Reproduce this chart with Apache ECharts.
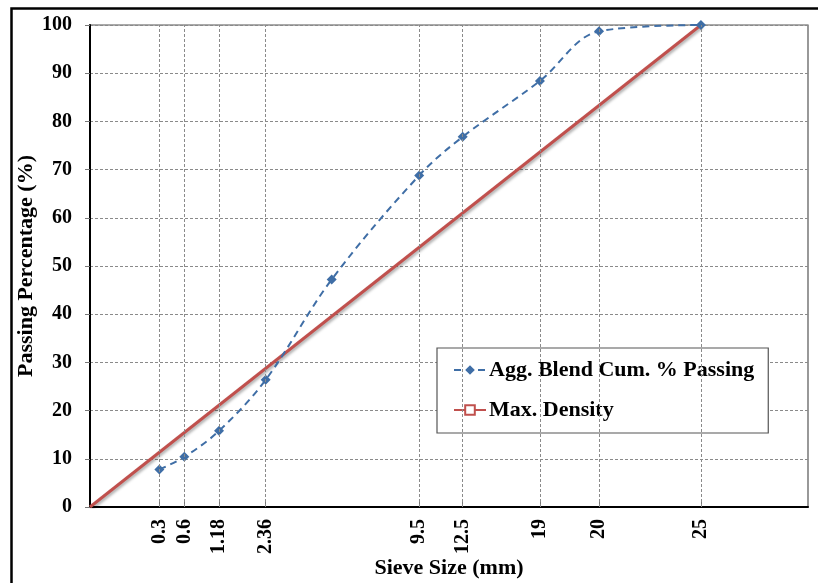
<!DOCTYPE html>
<html>
<head>
<meta charset="utf-8">
<script src="https://cdn.jsdelivr.net/npm/echarts@6/dist/echarts.min.js"></script>
<style>
html,body{margin:0;padding:0;background:#fff;}
#chart{width:818px;height:583px;}
</style>
</head>
<body>
<div id="chart"></div>
<script>
// Sieve sizes (mm) of the blend points
var sieveSizes = [0.3, 0.6, 1.18, 2.36, 4.75, 9.5, 12.5, 19, 20, 25];
// Abscissa at which each sieve is plotted (axis units)
var plotPos = [2.84, 3.86, 5.28, 7.19, 9.89, 13.47, 15.25, 18.41, 20.83, 25.0];
// Aggregate blend cumulative % passing
var blendPassing = [7.8, 10.4, 15.8, 26.4, 47.2, 68.8, 76.8, 88.4, 98.7, 100];
// Sieves that carry a tick label / vertical grid line
var labelledSieves = ['0.3', '0.6', '1.18', '2.36', '9.5', '12.5', '19', '20', '25'];
var labelledPos = [2.84, 3.86, 5.28, 7.19, 13.47, 15.25, 18.41, 20.83, 25.0];
// Maximum density line end points [position, % passing]
var maxDensityPos = [0, 25.0];
var maxDensityVal = [0, 100];

var blendData = plotPos.map(function (p, i) { return [p, blendPassing[i]]; });
var mdData = maxDensityPos.map(function (p, i) { return [p, maxDensityVal[i]]; });
var labelMap = {};
labelledPos.forEach(function (p, i) { labelMap[p.toFixed(2)] = labelledSieves[i]; });

var FONT = '"Liberation Serif", "Times New Roman", serif';
var chart = echarts.init(document.getElementById('chart'));
chart.setOption({
  animation: false,
  backgroundColor: '#fff',
  graphic: [{
    type: 'rect', left: 9, top: 6, silent: true, z: 100,
    shape: { width: 830, height: 600 },
    style: { fill: 'none', stroke: '#000', lineWidth: 2.5 }
  }],
  grid: { left: 90, top: 25, right: 10, bottom: 76, show: true, borderColor: '#555', borderWidth: 1.2, containLabel: false, outerBoundsMode: 'none' },
  legend: {
    orient: 'vertical',
    left: 437, top: 348,
    padding: [11, 14, 12, 16],
    itemGap: 18,
    itemWidth: 32, itemHeight: 12,
    backgroundColor: '#fff',
    borderColor: '#555', borderWidth: 1.2,
    textStyle: { fontFamily: FONT, fontWeight: 'bold', fontSize: 22, color: '#000', padding: [0, 0, 0, -2] },
    data: ['Agg. Blend Cum. % Passing', 'Max. Density']
  },
  xAxis: {
    type: 'value', min: 0, max: 29.38,
    name: 'Sieve Size (mm)', nameLocation: 'middle', nameGap: 50, nameMoveOverlap: false,
    nameTextStyle: { fontFamily: FONT, fontWeight: 'bold', fontSize: 22, color: '#000' },
    axisLine: { show: true, onZero: false, lineStyle: { color: '#000', width: 2 } },
    axisTick: { show: true, inside: true, length: 6, customValues: labelledPos, lineStyle: { color: '#777' } },
    axisLabel: {
      show: true, rotate: 90, margin: 12,
      customValues: labelledPos,
      fontFamily: FONT, fontWeight: 'bold', fontSize: 20, color: '#000',
      formatter: function (v) { return labelMap[Number(v).toFixed(2)] || ''; }
    },
    splitLine: { show: false }
  },
  yAxis: {
    type: 'value', min: 0, max: 100, interval: 10,
    name: 'Passing Percentage (%)', nameLocation: 'middle', nameGap: 53, nameMoveOverlap: false,
    nameTextStyle: { fontFamily: FONT, fontWeight: 'bold', fontSize: 22, color: '#000' },
    axisLine: { show: true, lineStyle: { color: '#000', width: 2 } },
    axisTick: { show: true, inside: false, length: 5, lineStyle: { color: '#777' } },
    axisLabel: { margin: 18, fontFamily: FONT, fontWeight: 'bold', fontSize: 20, color: '#000' },
    splitLine: { show: true, lineStyle: { color: '#8a8a8a', type: [3, 2], width: 1 } }
  },
  series: [
    {
      name: 'gridlines', type: 'line', data: [], silent: true,
      markLine: {
        silent: true, symbol: 'none', label: { show: false },
        lineStyle: { color: '#8a8a8a', type: [3, 2], width: 1 },
        data: labelledPos.map(function (p) { return { xAxis: p }; })
      }
    },
    {
      name: 'Max. Density', type: 'line', data: mdData,
      symbol: 'emptyRect', symbolSize: 9, showSymbol: false,
      itemStyle: { color: '#C0504D', borderColor: '#C0504D', borderWidth: 1.5 },
      lineStyle: { color: '#C0504D', width: 3, shadowBlur: 3, shadowColor: 'rgba(0,0,0,0.35)', shadowOffsetX: 1, shadowOffsetY: 2 },
      z: 3
    },
    {
      name: 'Agg. Blend Cum. % Passing', type: 'line', data: blendData,
      smooth: 0.35,
      symbol: 'diamond', symbolSize: 10,
      itemStyle: { color: '#3F6EA6' },
      lineStyle: { color: '#3F6EA6', width: 2, type: [7, 5] },
      z: 4
    }
  ]
});
</script>
</body>
</html>
